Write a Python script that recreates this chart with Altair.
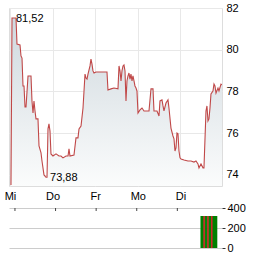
import json
import altair as alt
import pandas as pd

# ---- data ----
t = [0.023, 0.047, 0.141, 0.164, 0.235, 0.258, 0.282, 0.305, 0.329, 0.352,
     0.376, 0.423, 0.493, 0.516, 0.540, 0.563, 0.587, 0.610, 0.657, 0.681,
     0.728, 0.751, 0.798, 0.845, 0.869, 0.892, 0.915, 0.939, 0.962, 1.009,
     1.080, 1.150, 1.197, 1.244, 1.315, 1.362, 1.385, 1.408, 1.502, 1.549,
     1.596, 1.620, 1.667, 1.714, 1.761, 1.784, 1.808, 1.831, 1.878, 1.901,
     1.925, 1.948, 1.972, 2.019, 2.277, 2.300, 2.371, 2.441, 2.535, 2.559,
     2.582, 2.606, 2.629, 2.653, 2.676, 2.700, 2.723, 2.746, 2.770, 2.793,
     2.817, 2.840, 2.864, 2.887, 2.911, 2.934, 2.958, 2.981, 3.005, 3.052,
     3.099, 3.146, 3.263, 3.310, 3.357, 3.380, 3.451, 3.498, 3.521, 3.568,
     3.592, 3.615, 3.662, 3.709, 3.732, 3.779, 3.826, 3.850, 3.873, 3.897,
     3.920, 3.944, 3.967, 3.991, 4.014, 4.085, 4.178, 4.249, 4.319, 4.366,
     4.413, 4.437, 4.484, 4.531, 4.554, 4.601, 4.624, 4.648, 4.671, 4.695,
     4.718, 4.765, 4.789, 4.812, 4.836, 4.883, 4.906, 4.953, 4.977]
price = [73.51, 81.52, 81.52, 80.27, 80.23, 79.70, 79.60, 78.26, 78.26, 77.25,
         77.25, 78.74, 78.74, 77.54, 76.96, 77.54, 77.06, 76.68, 76.68, 75.38,
         75.05, 74.66, 73.99, 73.88, 73.88, 76.20, 76.44, 76.10, 75.00, 74.90,
         75.00, 74.90, 74.90, 74.81, 74.90, 74.90, 75.24, 74.90, 74.95, 75.77,
         75.77, 76.20, 76.34, 77.20, 78.83, 78.64, 78.59, 78.83, 79.22, 79.55,
         79.31, 78.98, 78.88, 78.93, 78.93, 78.07, 78.12, 78.16, 78.12, 79.22,
         78.98, 78.50, 78.98, 79.22, 79.27, 78.98, 77.54, 78.50, 78.74, 78.88,
         78.59, 78.83, 78.50, 78.74, 78.50, 78.26, 78.16, 78.02, 76.96, 77.11,
         77.20, 77.06, 77.06, 78.12, 78.12, 77.06, 77.06, 76.82, 77.54, 77.59,
         77.30, 77.06, 77.44, 77.59, 77.20, 76.24, 75.86, 75.72, 75.14, 75.29,
         76.00, 75.96, 75.14, 74.81, 74.76, 74.71, 74.66, 74.66, 74.61, 74.66,
         74.52, 74.33, 74.52, 74.33, 74.33, 77.06, 77.30, 76.58, 76.68, 77.20,
         77.88, 78.02, 78.35, 78.26, 77.92, 78.16, 78.02, 78.35, 78.31]

day_ticks = [0, 1, 2, 3, 4]
day_labels = ["Mi", "Do", "Fr", "Mo", "Di"]
price_ticks = [74, 76, 78, 80, 82]

max_t = [0.141]
max_v = [81.52]
max_txt = ["81,52"]
min_t = [0.869]
min_v = [73.88]
min_txt = ["73,88"]

vol_t = [4.589, 4.613, 4.636, 4.660, 4.683, 4.707, 4.730, 4.754, 4.777,
         4.801, 4.824, 4.848, 4.871, 4.894, 4.918, 4.941, 4.965]
vol = [320, 320, 320, 320, 320, 320, 320, 320, 320,
       320, 320, 320, 320, 320, 320, 320, 320]
vol_dir = ["up", "up", "up", "down", "up", "up", "up", "down", "up",
           "up", "up", "down", "up", "up", "up", "up", "up"]
vol_ticks = [0, 200, 400]

# ---- chart ----
FONT = "Liberation Sans"
XDOM = [-0.0235, 4.977]
YDOM = [73.46, 82]

df = pd.DataFrame({"t": t, "v": price})
label_expr = json.dumps(day_labels) + "[datum.value]"

xs = alt.Scale(domain=XDOM, nice=False, zero=False)
ys = alt.Scale(domain=YDOM, nice=False, zero=False)

x_axis = alt.Axis(
    values=day_ticks, labelExpr=label_expr, title=None, ticks=False, tickSize=0,
    domain=False, labelPadding=4, grid=True, gridColor="#e8e8e8",
    labelOverlap=False, labelFont=FONT, labelFontSize=11, labelColor="#000000")
y_axis = alt.Axis(
    orient="right", values=price_ticks, title=None, ticks=False, tickSize=0,
    domain=False, labelPadding=4, grid=True, gridColor="#e8e8e8", format="d",
    labelOverlap=False, labelFont=FONT, labelFontSize=11, labelColor="#000000")
x_main = alt.X("t:Q", scale=xs, axis=x_axis)
y_main = alt.Y("v:Q", scale=ys, axis=y_axis)

base = alt.Chart(df)
area = base.mark_area(
    clip=True,
    color=alt.Gradient(gradient="linear", x1=1, x2=1, y1=0, y2=1,
                       stops=[alt.GradientStop(color="#cfd8de", offset=0),
                              alt.GradientStop(color="#fbfcfc", offset=1)])
).encode(x=x_main, y=y_main, y2=alt.Y2(datum=YDOM[0]))
line = base.mark_line(color="#c04848", strokeWidth=1.1, clip=True).encode(
    x=x_main, y=y_main)

max_df = pd.DataFrame({"t": max_t, "v": max_v, "txt": max_txt})
min_df = pd.DataFrame({"t": min_t, "v": min_v, "txt": min_txt})
max_text = alt.Chart(max_df).mark_text(
    align="left", baseline="middle", dx=0, dy=0.5, font=FONT, fontSize=11,
    color="#000000").encode(x=x_main, y=y_main, text="txt:N")
min_text = alt.Chart(min_df).mark_text(
    align="left", baseline="middle", dx=3, dy=0.5, font=FONT, fontSize=11,
    color="#000000").encode(x=x_main, y=y_main, text="txt:N")

main = alt.layer(area, line, max_text, min_text).properties(
    width=213, height=178,
    view=alt.ViewBackground(stroke="#dddddd", strokeWidth=1))

vdf = pd.DataFrame({"t": vol_t, "vol": vol, "dir": vol_dir})
vys = alt.Scale(domain=[0, 400], nice=False)
color_scale = alt.Scale(domain=["up", "down"], range=["#008000", "#cc2a2a"])
vol_axis = alt.Axis(
    orient="right", values=vol_ticks, title=None, tickSize=3, tickColor="#333333",
    domain=False, labelPadding=2, grid=True, gridColor="#cccccc",
    labelOverlap=False, labelFont=FONT, labelFontSize=11, labelColor="#000000")
vx = alt.X("t:Q", scale=xs, axis=None)

bars_up = alt.Chart(vdf).transform_filter(alt.datum.dir == "up").mark_bar(size=1.6).encode(
    x=vx, y=alt.Y("vol:Q", scale=vys, axis=vol_axis),
    color=alt.Color("dir:N", scale=color_scale, legend=None))
bars_down = alt.Chart(vdf).transform_filter(alt.datum.dir == "down").mark_bar(size=1.6).encode(
    x=vx, y=alt.Y("vol:Q", scale=vys, axis=vol_axis),
    color=alt.Color("dir:N", scale=color_scale, legend=None))
tick_df = pd.DataFrame({"t": day_ticks, "top": [400] * len(day_ticks),
                        "low": [370] * len(day_ticks)})
top_ticks = alt.Chart(tick_df).mark_rule(color="#444444", strokeWidth=1).encode(
    x=vx, y=alt.Y("top:Q", scale=vys, axis=vol_axis), y2="low:Q")

volume = alt.layer(bars_up, bars_down, top_ticks).properties(
    width=213, height=40,
    view=alt.ViewBackground(strokeOpacity=0))

chart = alt.vconcat(main, volume, spacing=22, bounds="flush").properties(
    padding={"left": 3, "top": 1, "right": 0, "bottom": 0},
    background="#ffffff")

chart.save("out.html", embed_options={"renderer": "svg", "actions": False})
